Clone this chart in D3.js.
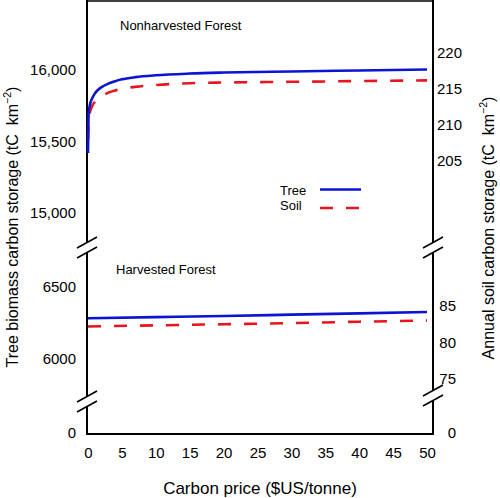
<!DOCTYPE html>
<html><head><meta charset="utf-8">
<script src="https://cdn.jsdelivr.net/npm/d3@7"></script>
<style>
body{margin:0;background:#fff;}
text{font-family:"Liberation Sans",Arial,Helvetica,sans-serif;fill:#000;}
</style></head>
<body><svg id="c" width="500" height="498"></svg>
<script>
// ---- data ----
const pricesNH = [0, 0.1, 0.3, 0.6, 1, 1.5, 2, 3, 4, 5, 7, 10, 15, 20, 30, 40, 50];
const treeNH   = [15420, 15700, 15760, 15800, 15835, 15862, 15880, 15905, 15922, 15935, 15950, 15963, 15975, 15982, 15990, 15997, 16004];
const soilNH   = [208.0, 210.5, 211.8, 212.6, 213.2, 213.7, 214.0, 214.5, 214.8, 215.0, 215.3, 215.55, 215.8, 215.9, 216.0, 216.1, 216.2];
const pricesH  = [0, 10, 20, 30, 40, 50];
const treeH    = [6283, 6291, 6299, 6308, 6317, 6326];
const soilH    = [82.2, 82.35, 82.5, 82.65, 82.85, 83.0];
const xTicks   = [0, 5, 10, 15, 20, 25, 30, 35, 40, 45, 50];
const leftTicksTop = [15000, 15500, 16000];
const leftTicksBot = [6000, 6500];
const rightTicksTop = [205, 210, 215, 220];
const rightTicksBot = [75, 80, 85];
const series = ["Tree", "Soil"];

// ---- layout ----
const svg = d3.select("#c");
const X0 = 87, X1 = 433, YB = 434;
const x = d3.scaleLinear().domain([0, 50]).range([88, 427]);
const yL1 = d3.scaleLinear().domain([15000, 16000]).range([213, 70]);
const yR1 = d3.scaleLinear().domain([205, 220]).range([161, 53]);
const yL2 = d3.scaleLinear().domain([6000, 6500]).range([359, 287]);
const yR2 = d3.scaleLinear().domain([75, 85]).range([379, 306]);
const yZero = d3.scaleLinear().domain([0, 1]).range([433, 400]);

const blue = "#0a14d2", red = "#e8141e";

// axis lines with breaks
const ax = svg.append("g").attr("stroke", "#000").attr("stroke-width", 2).attr("fill", "none");
ax.append("line").attr("x1", X0).attr("x2", X1).attr("y1", 1).attr("y2", 1).attr("stroke-width", 1.5);
ax.append("line").attr("x1", X0 - 1).attr("x2", X1 + 1).attr("y1", YB).attr("y2", YB);
function vAxis(xp, b1, b2) {
  ax.append("line").attr("x1", xp).attr("x2", xp).attr("y1", 0).attr("y2", b1 - 5);
  ax.append("line").attr("x1", xp).attr("x2", xp).attr("y1", b1 + 5).attr("y2", b2 - 5);
  ax.append("line").attr("x1", xp).attr("x2", xp).attr("y1", b2 + 5).attr("y2", YB + 1);
  [b1, b2].forEach(b => {
    [-5, 5].forEach(o => {
      ax.append("line").attr("stroke-width", 1.6)
        .attr("x1", xp - 10).attr("y1", b + o + 5.5)
        .attr("x2", xp + 10).attr("y2", b + o - 5.5);
    });
  });
}
vAxis(X0, 247.5, 401.5);
vAxis(X1, 247.5, 395.5);

// tick labels via axes
function styleAxis(g) {
  g.select(".domain").remove();
  g.selectAll("text").attr("font-size", 15).attr("font-family", "Liberation Sans, Arial, sans-serif");
}
const fd = d3.format("d");
svg.append("g").attr("transform", `translate(${X0},0)`)
  .call(d3.axisLeft(yL1).tickValues(leftTicksTop).tickFormat(d3.format(",")).tickSize(0).tickPadding(11)).call(styleAxis);
svg.append("g").attr("transform", `translate(${X0},0)`)
  .call(d3.axisLeft(yL2).tickValues(leftTicksBot).tickFormat(fd).tickSize(0).tickPadding(11)).call(styleAxis);
svg.append("g").attr("transform", `translate(${X0},0)`)
  .call(d3.axisLeft(yZero).tickValues([0]).tickFormat(fd).tickSize(0).tickPadding(11)).call(styleAxis);
svg.append("g").attr("transform", `translate(${X1},0)`)
  .call(d3.axisRight(yR1).tickValues(rightTicksTop).tickFormat(fd).tickSize(0).tickPadding(4)).call(styleAxis);
const rb = svg.append("g").attr("transform", `translate(${X1},0)`)
  .call(d3.axisRight(yR2).tickValues(rightTicksBot).tickFormat(fd).tickSize(0).tickPadding(4)).call(styleAxis);
rb.selectAll("text").attr("text-anchor", "end").attr("x", 23);
const rz = svg.append("g").attr("transform", `translate(${X1},0)`)
  .call(d3.axisRight(yZero).tickValues([0]).tickFormat(fd).tickSize(0).tickPadding(4)).call(styleAxis);
rz.selectAll("text").attr("text-anchor", "end").attr("x", 23);
svg.append("g").attr("transform", `translate(0,${YB})`)
  .call(d3.axisBottom(x).tickValues(xTicks).tickFormat(fd).tickSize(0).tickPadding(13)).call(styleAxis);

// lines
const dash = "13,13";
function drawLine(xs, ys, ysc, color, dashed) {
  const pts = xs.map((p, i) => [p, ys[i]]);
  svg.append("path").datum(pts)
    .attr("fill", "none").attr("stroke", color).attr("stroke-width", 2.6)
    .attr("stroke-dasharray", dashed ? dash : null)
    .attr("d", d3.line().x(d => x(d[0])).y(d => ysc(d[1])).curve(d3.curveMonotoneX));
}
drawLine(pricesNH, soilNH, yR1, red, true);
drawLine(pricesNH, treeNH, yL1, blue, false);
drawLine(pricesH, soilH, yR2, red, true);
drawLine(pricesH, treeH, yL2, blue, false);

// panel labels
svg.append("text").attr("x", 120).attr("y", 30).attr("font-size", 13).text("Nonharvested Forest");
svg.append("text").attr("x", 116).attr("y", 274).attr("font-size", 13).text("Harvested Forest");

// legend
const lg = svg.append("g");
series.forEach((s, i) => {
  const yy = i === 0 ? 190 : 207;
  lg.append("text").attr("x", 280).attr("y", yy + (i === 0 ? 5 : 3)).attr("font-size", 13).text(s);
  lg.append("line").attr("x1", 320).attr("x2", i === 0 ? 361 : 359).attr("y1", i === 0 ? 189.5 : 208).attr("y2", i === 0 ? 189.5 : 208)
    .attr("stroke", i === 0 ? blue : red).attr("stroke-width", 2.6)
    .attr("stroke-dasharray", i === 0 ? null : "13,13");
});

// axis titles
svg.append("text").attr("x", 260).attr("y", 494).attr("text-anchor", "middle").attr("font-size", 17)
  .text("Carbon price ($US/tonne)");
function yTitle(xp, cy, label) {
  const t = svg.append("text").attr("transform", `translate(${xp},${cy}) rotate(-90)`)
    .attr("text-anchor", "middle").attr("font-size", 16);
  t.append("tspan").text(label + " (tC\u00a0\u00a0km");
  t.append("tspan").attr("font-size", 10.5).attr("dy", -7).text("\u22122");
  t.append("tspan").attr("dy", 7).text(")");
}
yTitle(18, 227, "Tree biomass carbon storage");
yTitle(494, 228, "Annual soil carbon storage");
</script></body></html>
